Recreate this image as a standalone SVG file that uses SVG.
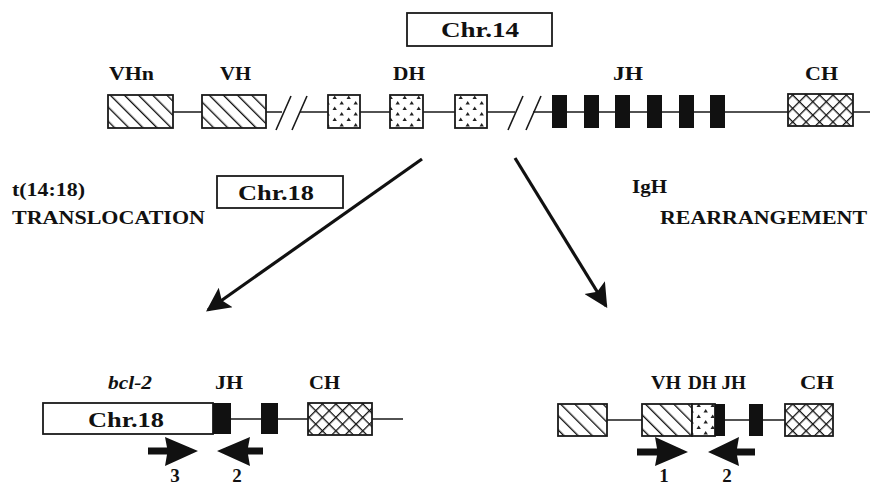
<svg xmlns="http://www.w3.org/2000/svg" width="874" height="487" viewBox="0 0 874 487">
  <style>
    .lbl { font-family: "Liberation Serif", "Times New Roman", serif; font-weight: bold; font-size: 19px; fill: #111; }
    .chr { font-family: "Liberation Serif", "Times New Roman", serif; font-weight: bold; font-size: 21px; fill: #111; }
    .box { stroke: #1a1a1a; stroke-width: 1.8; }
    .frame { fill: #fff; stroke: #1a1a1a; stroke-width: 1.8; }
    .wire { stroke: #1a1a1a; stroke-width: 1.6; fill: none; }
    .blk { fill: #111; }
    .big { stroke: #111; stroke-width: 3.2; fill: none; }
  </style>
  <defs>
    <!-- V segment: diagonal hatching -->
    <pattern id="hatch" patternUnits="userSpaceOnUse" width="10" height="10" patternTransform="rotate(-45)">
      <rect width="10" height="10" fill="#fff"/>
      <line x1="0" y1="0" x2="0" y2="10" stroke="#111" stroke-width="2.7"/>
    </pattern>
    <!-- C segment: cross hatching -->
    <pattern id="cross" patternUnits="userSpaceOnUse" width="9.5" height="9.5" patternTransform="rotate(45)">
      <rect width="9.5" height="9.5" fill="#fff"/>
      <line x1="0" y1="0" x2="0" y2="9.5" stroke="#111" stroke-width="2.6"/>
      <line x1="0" y1="0" x2="9.5" y2="0" stroke="#111" stroke-width="2.6"/>
    </pattern>
    <!-- D segment: stipple -->
    <pattern id="dots" patternUnits="userSpaceOnUse" width="14" height="11" x="1" y="0">
      <rect width="14" height="11" fill="#fff"/>
      <path d="M2.5,5.5 l2.2,-3.4 l2.2,3.4 z" fill="#222"/>
      <path d="M9.5,11 l2.2,-3.4 l2.2,3.4 z" fill="#222"/>
    </pattern>
    <marker id="head" viewBox="0 0 10 10" refX="9" refY="5" markerWidth="8" markerHeight="7.5" orient="auto" markerUnits="strokeWidth">
      <path d="M0,0 L10,5 L0,10 L2,5 z" fill="#111"/>
    </marker>
  </defs>

  <rect width="874" height="487" fill="#fff"/>

  <!-- Chromosome 14 germline IgH locus -->
  <g id="chr14-label">
    <rect class="frame" x="407" y="13" width="145" height="33"/>
    <text class="chr" x="441" y="37" textLength="78" lengthAdjust="spacingAndGlyphs">Chr.14</text>
  </g>

  <g id="germline">
    <path class="wire" d="M173,112 H202 M266,112 H282 M300,112 H328 M360,112 H390 M423,112 H455 M487,112 H515 M533,112 H552 M567,112 H584 M599,112 H615 M630,112 H647 M662,112 H679 M694,112 H710 M725,112 H788 M853,112 H870"/>
    <path class="wire" d="M276,130 L291,96 M292,130 L307,96 M508,130 L523,96 M526,130 L541,96" stroke-width="2.2"/>
    <g id="vhn"><rect class="box" x="108" y="95" width="65" height="33" fill="url(#hatch)"/><text class="lbl" x="109" y="80" textLength="45" lengthAdjust="spacingAndGlyphs">VHn</text></g>
    <g id="vh"><rect class="box" x="202" y="95" width="64" height="33" fill="url(#hatch)"/><text class="lbl" x="220" y="80" textLength="31" lengthAdjust="spacingAndGlyphs">VH</text></g>
    <g id="dh">
      <rect class="box" x="328" y="95" width="32" height="33" fill="url(#dots)"/>
      <rect class="box" x="390" y="95" width="33" height="33" fill="url(#dots)"/>
      <rect class="box" x="455" y="95" width="32" height="33" fill="url(#dots)"/>
      <text class="lbl" x="393" y="80" textLength="32" lengthAdjust="spacingAndGlyphs">DH</text>
    </g>
    <g id="jh">
      <rect class="blk" x="552" y="95" width="15" height="33"/>
      <rect class="blk" x="584" y="95" width="15" height="33"/>
      <rect class="blk" x="615" y="95" width="15" height="33"/>
      <rect class="blk" x="647" y="95" width="15" height="33"/>
      <rect class="blk" x="679" y="95" width="15" height="33"/>
      <rect class="blk" x="710" y="95" width="15" height="33"/>
      <text class="lbl" x="613" y="80" textLength="30" lengthAdjust="spacingAndGlyphs">JH</text>
    </g>
    <g id="ch"><rect class="box" x="788" y="94" width="65" height="32" fill="url(#cross)"/><text class="lbl" x="805" y="80" textLength="33" lengthAdjust="spacingAndGlyphs">CH</text></g>
  </g>

  <!-- Side captions -->
  <g id="translocation-label">
    <text class="lbl" x="12" y="196" textLength="73" lengthAdjust="spacingAndGlyphs">t(14:18)</text>
    <text class="lbl" x="12" y="224" textLength="193" lengthAdjust="spacingAndGlyphs">TRANSLOCATION</text>
  </g>
  <g id="chr18-label">
    <rect class="frame" x="217" y="176" width="126" height="32"/>
    <text class="chr" x="238" y="200" textLength="76" lengthAdjust="spacingAndGlyphs">Chr.18</text>
  </g>
  <g id="rearrangement-label">
    <text class="lbl" x="632" y="193" textLength="35" lengthAdjust="spacingAndGlyphs">IgH</text>
    <text class="lbl" x="660" y="224" textLength="207" lengthAdjust="spacingAndGlyphs">REARRANGEMENT</text>
  </g>

  <!-- Connectors -->
  <g id="connectors">
    <line class="big" x1="422" y1="159" x2="208" y2="310" marker-end="url(#head)"/>
    <line class="big" x1="515" y1="158" x2="606" y2="306" marker-end="url(#head)"/>
  </g>

  <!-- t(14;18) product -->
  <g id="translocated">
    <path class="wire" d="M231,419 H261 M278,419 H308 M372,419 H403"/>
    <rect class="frame" x="43" y="403" width="170" height="31"/>
    <text class="chr" x="88" y="427" textLength="76" lengthAdjust="spacingAndGlyphs">Chr.18</text>
    <rect class="blk" x="213" y="403" width="18" height="31"/>
    <rect class="blk" x="261" y="403" width="17" height="31"/>
    <rect class="box" x="308" y="403" width="64" height="32" fill="url(#cross)"/>
    <text class="lbl" x="108" y="389" textLength="44" lengthAdjust="spacingAndGlyphs" font-style="italic">bcl-2</text>
    <text class="lbl" x="215" y="389" textLength="28" lengthAdjust="spacingAndGlyphs">JH</text>
    <text class="lbl" x="309" y="389" textLength="31" lengthAdjust="spacingAndGlyphs">CH</text>
  </g>
  <g id="primer3">
    <path class="blk" d="M148,447.5 H167 L165,437 L198,451 L165,466 L167,454.5 H148 z"/>
    <text class="lbl" x="175" y="482" text-anchor="middle">3</text>
  </g>
  <g id="primer2-left">
    <path class="blk" d="M263,447.5 H248 L250,437 L217,451 L250,466 L248,454.5 H263 z"/>
    <text class="lbl" x="237" y="482" text-anchor="middle">2</text>
  </g>

  <!-- VDJ rearranged product -->
  <g id="rearranged">
    <path class="wire" d="M607,420 H642 M725,420 H749 M763,420 H785"/>
    <rect class="box" x="558" y="404" width="49" height="32" fill="url(#hatch)"/>
    <rect class="box" x="642" y="404" width="50" height="32" fill="url(#hatch)"/>
    <rect class="box" x="692" y="404" width="23" height="32" fill="url(#dots)"/>
    <rect class="blk" x="715" y="404" width="10" height="32"/>
    <rect class="blk" x="749" y="404" width="14" height="32"/>
    <rect class="box" x="785" y="404" width="48" height="32" fill="url(#cross)"/>
    <text class="lbl" x="651" y="389" textLength="30" lengthAdjust="spacingAndGlyphs">VH</text>
    <text class="lbl" x="688" y="389" textLength="58" lengthAdjust="spacingAndGlyphs">DH JH</text>
    <text class="lbl" x="800" y="389" textLength="34" lengthAdjust="spacingAndGlyphs">CH</text>
  </g>
  <g id="primer1">
    <path class="blk" d="M637,448.5 H657 L655,437 L688,452 L655,466 L657,455.5 H637 z"/>
    <text class="lbl" x="664" y="482" text-anchor="middle">1</text>
  </g>
  <g id="primer2-right">
    <path class="blk" d="M755,448.5 H737 L739,437 L708,452 L739,466 L737,455.5 H755 z"/>
    <text class="lbl" x="727" y="482" text-anchor="middle">2</text>
  </g>
</svg>
